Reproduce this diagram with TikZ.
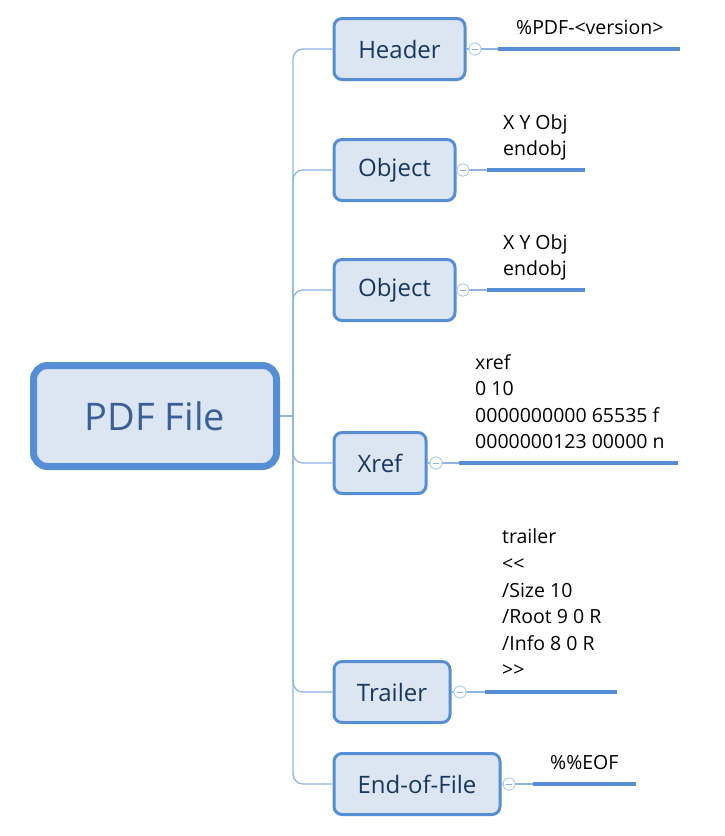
\documentclass[tikz,border=0pt]{standalone}
\usepackage{fontspec}
\setmainfont{Open Sans}
\usepackage{xcolor}
\usetikzlibrary{positioning}

\definecolor{boxfill}{HTML}{DCE6F2}
\definecolor{boxline}{HTML}{558ED5}
\definecolor{twig}{HTML}{8EB4E3}
\definecolor{boxtext}{HTML}{17375E}
\definecolor{roottext}{HTML}{3A5F96}

\begin{document}
\begin{tikzpicture}[x=1pt, y=-1pt,
    rootbox/.style={draw=boxline, line width=7pt, fill=boxfill, rounded corners=14pt,
        minimum width=243pt, minimum height=101pt, text=roottext,
        font=\fontsize{38}{40}\selectfont},
    branch/.style={draw=boxline, line width=3pt, fill=boxfill, rounded corners=8pt,
        minimum height=61pt, inner xsep=0pt, anchor=west, text=boxtext,
        font=\fontsize{24}{28}\selectfont},
    fold/.style={circle, draw=twig!70, fill=white, line width=0.8pt, inner sep=0pt,
        minimum size=12pt,
        path picture={\draw[twig, line width=0.8pt] ([xshift=-3pt]path picture bounding box.center)
            -- ([xshift=3pt]path picture bounding box.center);}},
    trunk/.style={draw=twig, line width=1.3pt, rounded corners=10pt},
    stem/.style={draw=twig, line width=1.3pt},
    bar/.style={draw=boxline, line width=4pt},
    leaf/.style={align=left, anchor=south west, inner sep=0pt, text depth=0pt,
        font=\fontsize{19.5}{26.6}\selectfont}]

    \useasboundingbox (0,0) rectangle (725,836);

    % main node
    \node[rootbox] (root) at (155,416) {PDF File};

    % branches
    \node[branch, minimum width=131pt] (hdr) at (332.5,49) {Header};
    \node[branch, minimum width=121pt] (obja) at (332.5,170) {Object};
    \node[branch, minimum width=121pt] (objb) at (332.5,290) {Object};
    \node[branch, minimum width=92pt] (xref) at (332.5,463) {Xref};
    \node[branch, minimum width=116pt] (trl) at (332.5,692) {Trailer};
    \node[branch, minimum width=166pt] (eof) at (332.5,784) {End-of-File};

    \draw[stem] (root.east) -- (293,416) coordinate (hub);
    \foreach \b in {hdr, obja, objb, xref, trl, eof}
        \draw[trunk] (hub) |- (\b.west);

    % collapse buttons
    \node[fold] (hdrfold) at (475,49) {};
    \node[fold] (objafold) at (463,170) {};
    \node[fold] (objbfold) at (463,290) {};
    \node[fold] (xreffold) at (436,463) {};
    \node[fold] (trlfold) at (460,692) {};
    \node[fold] (eoffold) at (509,784) {};

    % underlines of the leaves
    \coordinate (hdrl) at (498,49);   \coordinate (hdrr) at (680,49);
    \coordinate (objal) at (487,170); \coordinate (objar) at (585,170);
    \coordinate (objbl) at (487,290); \coordinate (objbr) at (585,290);
    \coordinate (xrefl) at (459,463); \coordinate (xrefr) at (678,463);
    \coordinate (trll) at (485,692);  \coordinate (trlr) at (617,692);
    \coordinate (eofl) at (533,784);  \coordinate (eofr) at (636,784);

    \draw[stem] (hdr.east) -- (hdrfold) -- (hdrl);
    \draw[stem] (obja.east) -- (objafold) -- (objal);
    \draw[stem] (objb.east) -- (objbfold) -- (objbl);
    \draw[stem] (xref.east) -- (xreffold) -- (xrefl);
    \draw[stem] (trl.east) -- (trlfold) -- (trll);
    \draw[stem] (eof.east) -- (eoffold) -- (eofl);
    \node[fold] at (hdrfold) {};
    \node[fold] at (objafold) {};
    \node[fold] at (objbfold) {};
    \node[fold] at (xreffold) {};
    \node[fold] at (trlfold) {};
    \node[fold] at (eoffold) {};

    \draw[bar] (hdrl) -- (hdrr);
    \draw[bar] (objal) -- (objar);
    \draw[bar] (objbl) -- (objbr);
    \draw[bar] (xrefl) -- (xrefr);
    \draw[bar] (trll) -- (trlr);
    \draw[bar] (eofl) -- (eofr);

    % leaf texts
    \node[leaf] (hdrtxt) at (516,35) {\%PDF-<version>};
    \node[leaf] (objatxt) at (503,156) {X Y Obj\\endobj};
    \node[leaf] (objbtxt) at (503,276) {X Y Obj\\endobj};
    \node[leaf] (xreftxt) at (475,449) {xref\\0 10\\0000000000 65535 f\\0000000123 00000 n};
    \node[leaf] (trltxt) at (502,677) {trailer\\<{}<\\/Size 10\\/Root 9 0 R\\/Info 8 0 R\\>{}>};
    \node[leaf] (eoftxt) at (550,770) {\%\%EOF};
\end{tikzpicture}
\end{document}
